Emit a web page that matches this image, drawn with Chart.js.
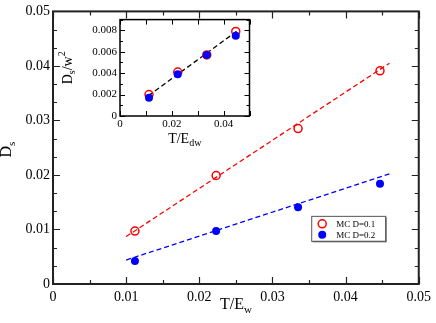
<!DOCTYPE html>
<html>
<head>
<meta charset="utf-8">
<script src="https://cdn.jsdelivr.net/npm/chart.js@4.4.1/dist/chart.umd.min.js"></script>
<style>
  html, body { margin: 0; padding: 0; background: #fff; }
  #wrap { position: relative; width: 436px; height: 323px; }
  #main { position: absolute; left: 0; top: 0; }
  #inset { position: absolute; left: 58px; top: 10px; }
</style>
</head>
<body>
<div id="wrap">
  <canvas id="main" width="436" height="323"></canvas>
  <canvas id="inset" width="200" height="142"></canvas>
</div>
<script>
// MC data, main panel
const tempX = [0.0112, 0.0223, 0.0335, 0.0447]
const dsD01 = [0.0097, 0.0199, 0.0285, 0.0391]
const dsD02 = [0.0042, 0.0097, 0.0141, 0.0184]
// dashed fits
const fitX = [0.010, 0.046]
const fitD01 = [0.0087, 0.0405]
const fitD02 = [0.0044, 0.0202]
// inset: Ds / w^2
const scaledD01 = [0.0020, 0.0041, 0.0057, 0.0079]
const scaledD02 = [0.0017, 0.0039, 0.0057, 0.0075]
const insetFitX = [0.011, 0.045]
const insetFitY = [0.0019, 0.0079]
// tick labels
const mainXTicks = [0, 0.01, 0.02, 0.03, 0.04, 0.05]
const mainYTicks = [0, 0.01, 0.02, 0.03, 0.04, 0.05]
const insetXTicks = [0, 0.02, 0.04]
const insetYTicks = [0, 0.002, 0.004, 0.006, 0.008]
const labelD01 = 'MC D=0.1'
const labelD02 = 'MC D=0.2'

const SERIF = "'Liberation Serif', 'Times New Roman', serif"
const RED = '#ff0000'
const BLUE = '#0000ff'

const pts = (xs, ys) => xs.map((x, i) => ({x: x, y: ys[i]}))
const fmt = v => v === 0 ? '0' : String(v)
const steps = (from, to, step) => {
    const out = []
    for (let k = 0; from + k * step <= to + 1e-12; k++) out.push(from + k * step)
    return out
}

// text with sub/superscripts, optionally rotated
function drawParts(ctx, parts, cx, cy, angle) {
    ctx.save()
    ctx.translate(cx, cy)
    ctx.rotate(angle || 0)
    ctx.fillStyle = '#000'
    ctx.textBaseline = 'alphabetic'
    ctx.textAlign = 'left'
    let total = 0
    parts.forEach(p => { ctx.font = p.size + 'px ' + SERIF; total += ctx.measureText(p.text).width })
    let x = -total / 2
    parts.forEach(p => {
        ctx.font = p.size + 'px ' + SERIF
        ctx.fillText(p.text, x, p.dy || 0)
        x += ctx.measureText(p.text).width
    })
    ctx.restore()
}

function drawMarker(ctx, ds, x, y) {
    ctx.save()
    ctx.beginPath()
    ctx.arc(x, y, ds.pointRadius, 0, Math.PI * 2)
    if (ds.pointBackgroundColor && ds.pointBackgroundColor !== 'transparent') {
        ctx.fillStyle = ds.pointBackgroundColor
        ctx.fill()
    }
    if (ds.pointBorderWidth > 0) {
        ctx.lineWidth = ds.pointBorderWidth
        ctx.strokeStyle = ds.pointBorderColor
        ctx.stroke()
    }
    ctx.restore()
}

const decoPlugin = {
    id: 'deco',
    beforeDatasetsDraw(chart) {
        const a = chart.chartArea, ctx = chart.ctx
        ctx.save()
        ctx.fillStyle = '#fff'
        ctx.fillRect(a.left, a.top, a.right - a.left, a.bottom - a.top)
        ctx.restore()
    },
    afterDraw(chart, args, o) {
        const ctx = chart.ctx, a = chart.chartArea
        const sx = chart.scales.x, sy = chart.scales.y
        ctx.save()
        ctx.strokeStyle = o.color
        ctx.lineWidth = o.tickWidth
        const xt = (list, len) => list.forEach(v => {
            const p = Math.round(sx.getPixelForValue(v)) + 0.5
            ctx.beginPath()
            ctx.moveTo(p, a.bottom); ctx.lineTo(p, a.bottom - len)
            ctx.moveTo(p, a.top); ctx.lineTo(p, a.top + len)
            ctx.stroke()
        })
        const yt = (list, len) => list.forEach(v => {
            const p = Math.round(sy.getPixelForValue(v)) + 0.5
            ctx.beginPath()
            ctx.moveTo(a.left, p); ctx.lineTo(a.left + len, p)
            ctx.moveTo(a.right, p); ctx.lineTo(a.right - len, p)
            ctx.stroke()
        })
        xt(o.xMajor, o.majorLen); xt(o.xMinor, o.minorLen)
        yt(o.yMajor, o.majorLen); yt(o.yMinor, o.minorLen)
        ctx.lineWidth = o.frameWidth
        ctx.strokeRect(a.left, a.top, a.right - a.left, a.bottom - a.top)
        ctx.restore()

        const cxm = (a.left + a.right) / 2, cym = (a.top + a.bottom) / 2
        drawParts(ctx, o.xTitle, cxm + o.xTitleDx, a.bottom + o.xTitleDy, 0)
        drawParts(ctx, o.yTitle, o.yTitleX, cym + o.yTitleDy, -Math.PI / 2)

        if (o.legend) {
            const L = o.legend
            const left = sx.getPixelForValue(L.x), top = sy.getPixelForValue(L.y)
            ctx.save()
            ctx.fillStyle = '#777'
            ctx.fillRect(left + 1.5, top + 1.5, L.w, L.h)
            ctx.fillStyle = '#fff'
            ctx.fillRect(left, top, L.w, L.h)
            ctx.strokeStyle = '#555'
            ctx.lineWidth = 1
            ctx.strokeRect(left + 0.5, top + 0.5, L.w, L.h)
            ctx.font = L.size + 'px ' + SERIF
            ctx.fillStyle = '#000'
            ctx.textBaseline = 'middle'
            L.items.forEach((idx, i) => {
                const ds = chart.data.datasets[idx]
                const yy = top + 8 + i * 11
                drawMarker(ctx, ds, left + 11, yy)
                ctx.fillText(ds.label, left + 25, yy + 0.5)
            })
            ctx.restore()
        }
    }
}

const axis = (min, max, ticks, fontSize, pad, fit) => ({
    type: 'linear', min: min, max: max,
    grid: {display: false, drawTicks: false},
    border: {display: false},
    ticks: {
        color: '#000', padding: pad, autoSkip: false, maxRotation: 0,
        font: {family: SERIF, size: fontSize},
        callback: v => fmt(v)
    },
    afterBuildTicks: s => { s.ticks = ticks.map(v => ({value: v})) },
    afterFit: fit
})

const openStyle = {
    pointStyle: 'circle', pointRadius: 4, pointHoverRadius: 4,
    pointBorderWidth: 1.5, pointBorderColor: RED, pointBackgroundColor: 'transparent',
    showLine: false
}
const fillStyle = {
    pointStyle: 'circle', pointRadius: 4, pointHoverRadius: 4,
    pointBorderWidth: 0, pointBorderColor: BLUE, pointBackgroundColor: BLUE,
    showLine: false
}
const dashStyle = color => ({
    showLine: true, pointRadius: 0, borderColor: color, borderWidth: 1.3,
    borderDash: [5, 3], fill: false
})

new Chart(document.getElementById('main'), {
    type: 'scatter',
    data: {
        datasets: [
            Object.assign({label: labelD01, data: pts(tempX, dsD01)}, openStyle),
            Object.assign({label: labelD02, data: pts(tempX, dsD02)}, fillStyle),
            Object.assign({label: 'fit 0.1', data: pts(fitX, fitD01)}, dashStyle(RED)),
            Object.assign({label: 'fit 0.2', data: pts(fitX, fitD02)}, dashStyle(BLUE))
        ]
    },
    options: {
        responsive: false, animation: false, devicePixelRatio: 1,
        layout: {padding: {top: 6, right: 14, left: 0, bottom: 0}},
        plugins: {
            legend: {display: false}, tooltip: {enabled: false},
            deco: {
                color: '#222', tickWidth: 1.2, frameWidth: 2,
                majorLen: 7, minorLen: 4,
                xMajor: mainXTicks, xMinor: steps(0.005, 0.05, 0.01),
                yMajor: mainYTicks, yMinor: steps(0, 0.05, 0.01 / 3),
                xTitle: [{text: 'T/E', size: 16}, {text: 'w', size: 11, dy: 4}],
                xTitleDx: 0, xTitleDy: 25,
                yTitle: [{text: 'D', size: 16}, {text: 's', size: 11, dy: 4}],
                yTitleX: 11, yTitleDy: 2,
                legend: {x: 0.0353, y: 0.0125, w: 74, h: 25, size: 9, items: [0, 1]}
            }
        },
        scales: {
            x: axis(0, 0.05, mainXTicks, 14, 5, s => { s.height = 39 }),
            y: axis(0, 0.05, mainYTicks, 14, 3, s => { s.width = 53 })
        }
    },
    plugins: [decoPlugin]
})

new Chart(document.getElementById('inset'), {
    type: 'scatter',
    data: {
        datasets: [
            Object.assign({label: labelD02, data: pts(tempX, scaledD02)}, fillStyle),
            Object.assign({label: labelD01, data: pts(tempX, scaledD01)}, openStyle),
            Object.assign({label: 'fit', data: pts(insetFitX, insetFitY)}, dashStyle('#000'))
        ]
    },
    options: {
        responsive: false, animation: false, devicePixelRatio: 1,
        layout: {padding: {top: 9, right: 8.5, left: 0, bottom: 0}},
        plugins: {
            legend: {display: false}, tooltip: {enabled: false},
            deco: {
                color: '#000', tickWidth: 1, frameWidth: 1.5,
                majorLen: 5, minorLen: 3,
                xMajor: steps(0, 0.05, 0.01), xMinor: [],
                yMajor: insetYTicks, yMinor: steps(0.001, 0.009, 0.002),
                xTitle: [{text: 'T/E', size: 14}, {text: 'dw', size: 10, dy: 3}],
                xTitleDx: 0, xTitleDy: 27,
                yTitle: [{text: 'D', size: 14}, {text: 's', size: 10, dy: 3},
                         {text: '/w', size: 14}, {text: '2', size: 10, dy: -7}],
                yTitleX: 14, yTitleDy: 0
            }
        },
        scales: {
            x: axis(0, 0.05, insetXTicks, 11, 2, s => { s.height = 36 }),
            y: axis(0, 0.009, insetYTicks, 11, 3, s => { s.width = 62 })
        }
    },
    plugins: [decoPlugin]
})
</script>
</body>
</html>
